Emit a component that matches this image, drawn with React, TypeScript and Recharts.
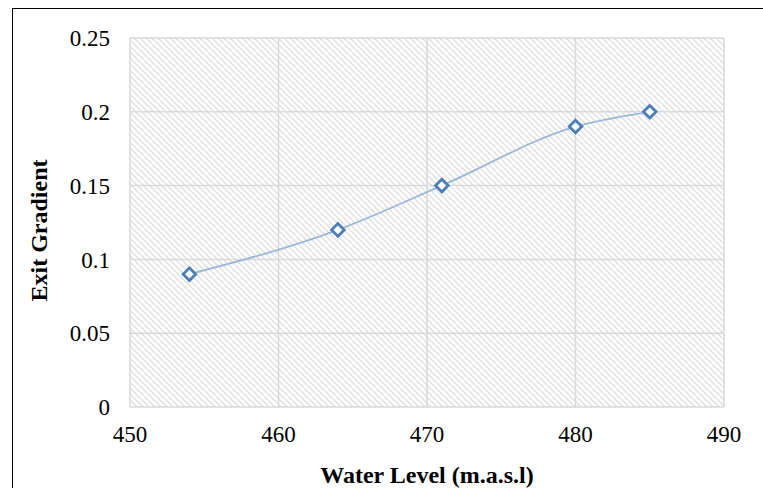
import { LineChart, Line, XAxis, YAxis, CartesianGrid } from 'recharts'

const waterLevels = [454, 464, 471, 480, 485]
const exitGradients = [0.09, 0.12, 0.15, 0.19, 0.2]
const xTicks = [450, 460, 470, 480, 490]
const yTicks = [0, 0.05, 0.1, 0.15, 0.2, 0.25]

const data = waterLevels.map((x, i) => ({ level: x, gradient: exitGradients[i] }))

const font = '"Liberation Serif", "Times New Roman", serif'

const Diamond = (props: any) => {
  const { cx, cy } = props
  if (cx == null || cy == null) return null
  const r = 6.3
  return (
    <path
      d={`M${cx},${cy - r} L${cx + r},${cy} L${cx},${cy + r} L${cx - r},${cy} Z`}
      fill="#fff"
      stroke="#4a7ebb"
      strokeWidth={2.8}
    />
  )
}

const XTick = (props: any) => {
  const { x, y, payload } = props
  return (
    <text x={x} y={y} dy="0.71em" textAnchor="middle" fill="#000" fontSize={23} fontFamily={font} style={{ fontFamily: font }}>
      {payload.value}
    </text>
  )
}

export default function App() {
  return (
    <div style={{ position: 'absolute', left: 0, top: 0, width: 763, height: 488, overflow: 'hidden', background: '#fff', fontFamily: font }}>
      <div
        style={{
          position: 'absolute',
          left: 12,
          top: 8,
          width: 800,
          height: 600,
          border: '1.5px solid #000',
        }}
      />
      <LineChart
        width={763}
        height={488}
        data={data}
        margin={{ top: 38, right: 39, left: 50, bottom: 41 }}
        style={{ position: 'absolute', left: 0, top: 0, fontFamily: font }}
      >
        <defs>
          <pattern id="hatch" patternUnits="userSpaceOnUse" width="6" height="6">
            <rect width="6" height="6" fill="#fff" />
            <path d="M0,0 L6,6 M-3,3 L3,9 M3,-3 L9,3" stroke="#e0e0e0" strokeWidth={1.5} />
          </pattern>
        </defs>
        <CartesianGrid fill="url(#hatch)" stroke="#d9d9d9" strokeWidth={1.5} />
        <XAxis
          dataKey="level"
          type="number"
          domain={[450, 490]}
          ticks={xTicks}
          axisLine={false}
          tickLine={false}
          tickSize={0}
          tickMargin={19}
          height={40}
          tick={<XTick />}
          label={{
            value: 'Water Level (m.a.s.l)',
            position: 'bottom',
            offset: 19,
            style: { fill: '#000', fontSize: 24, fontWeight: 'bold', fontFamily: font },
          }}
        />
        <YAxis
          type="number"
          domain={[0, 0.25]}
          ticks={yTicks}
          axisLine={false}
          tickLine={false}
          tickSize={0}
          tickMargin={20}
          width={80}
          tick={{ fill: '#000', fontSize: 23, fontFamily: font }}
          label={{
            value: 'Exit Gradient',
            angle: -90,
            position: 'center',
            dx: -52,
            dy: 8,
            style: { fill: '#000', fontSize: 24, fontWeight: 'bold', fontFamily: font, textAnchor: 'middle' },
          }}
        />
        <Line
          dataKey="gradient"
          type="monotone"
          stroke="#9bb7da"
          strokeWidth={1.8}
          dot={<Diamond />}
          activeDot={false}
          isAnimationActive={false}
        />
      </LineChart>
    </div>
  )
}
